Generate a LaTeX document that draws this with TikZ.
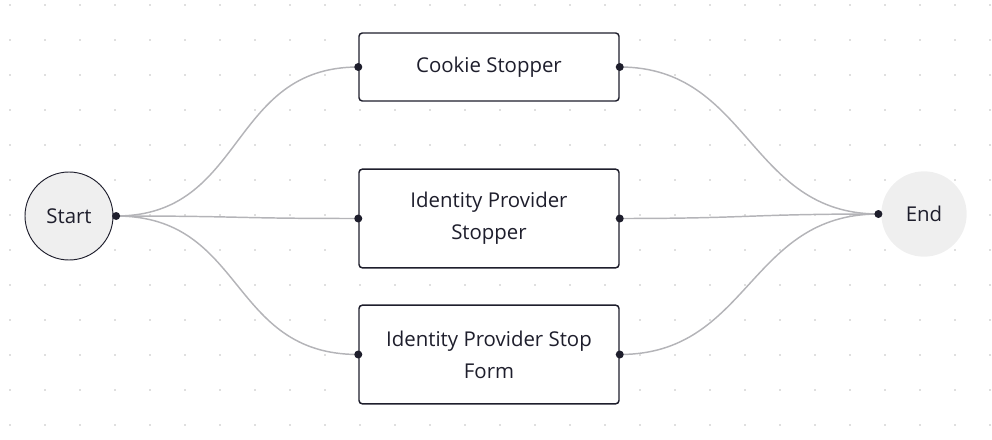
\documentclass[tikz,border=0pt]{standalone}
\usepackage{fontspec}
\setmainfont{Open Sans}
\definecolor{ink}{HTML}{1E1E2C}
\definecolor{wire}{HTML}{B4B4B8}
\definecolor{bubble}{HTML}{EFEFEF}
\definecolor{griddot}{HTML}{BEBEBE}
\begin{document}
\begin{tikzpicture}[x=0.75pt,y=-0.75pt,
	stepbox/.style={draw=ink,line width=1.1pt,rounded corners=2.5pt,fill=white,
		minimum width=195pt,minimum height=51pt,align=center,text=ink,font=\fontsize{15.3}{24}\selectfont},
	startnode/.style={circle,draw=ink,line width=0.7pt,fill=bubble,minimum size=66pt,inner sep=0pt,text=ink,font=\fontsize{15.3}{18}\selectfont},
	endnode/.style={circle,fill=bubble,minimum size=64pt,inner sep=0pt,text=ink,font=\fontsize{15.3}{18}\selectfont},
	wire/.style={draw=wire,line width=1.1pt},
	port/.style={fill=ink}]
	\useasboundingbox (0,0) rectangle (992,439);
	% background dots
	\foreach \x in {10,45,...,990}
		\foreach \y in {5,40,...,439}
			\fill[griddot] (\x,\y) circle (0.65pt);
	% nodes
	\node[startnode] (start) at (69,216) {Start};
	\node[endnode] (end) at (924,214) {End};
	\node[stepbox] (cookie) at (489,67) {Cookie Stopper};
	\node[stepbox,minimum height=74pt] (idp) at (489,218.5) {Identity Provider\\Stopper};
	\node[stepbox,minimum height=74pt] (idpform) at (489,354.5) {Identity Provider Stop\\Form};
	% ports
	\coordinate (startport) at ([xshift=2pt]start.east);
	\coordinate (endport) at ([xshift=-2pt]end.west);
	% connectors
	\foreach \n in {cookie,idp,idpform}{
		\draw[wire] (startport) .. controls +(130,0) and +(-130,0) .. (\n.west);
		\draw[wire] (\n.east) .. controls +(130,0) and +(-130,0) .. (endport);
	}
	\foreach \p in {startport,endport,cookie.west,cookie.east,idp.west,idp.east,idpform.west,idpform.east}
		\fill[port] (\p) circle (3pt);
\end{tikzpicture}
\end{document}
